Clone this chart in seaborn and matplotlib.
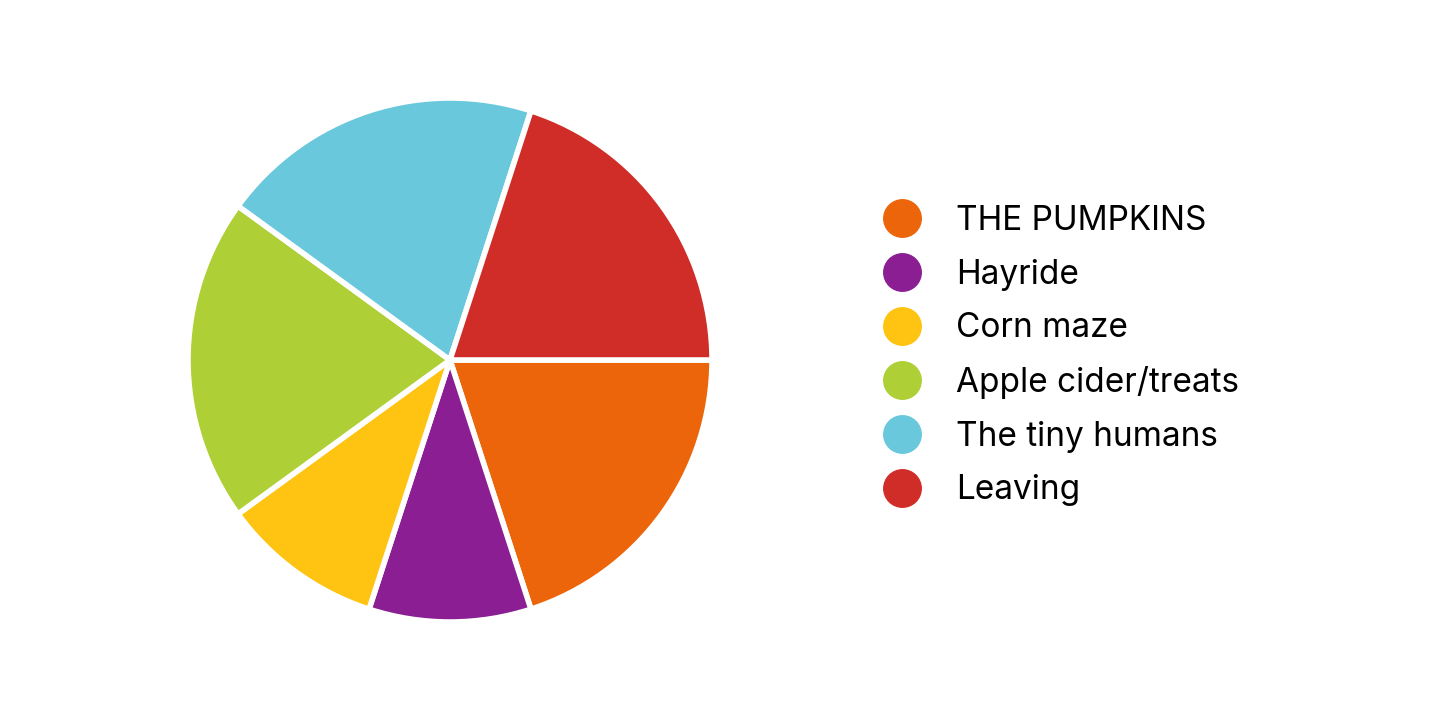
import matplotlib
matplotlib.use("Agg")
import matplotlib.pyplot as plt
import seaborn as sns
from matplotlib.lines import Line2D

# data
labels = ["THE PUMPKINS", "Hayride", "Corn maze", "Apple cider/treats",
          "The tiny humans", "Leaving"]
shares = [20, 10, 10, 20, 20, 20]
colors = ["#EC650A", "#8A1E92", "#FFC312", "#AECF35", "#6AC8DC", "#D12D28"]

sns.set_theme(style="white")
plt.rcParams['font.family'] = ['Inter', 'DejaVu Sans']

fig = plt.figure(figsize=(14.4, 7.2), dpi=100)

# pie centred at (450, 360) px, radius ~262 px
ax = fig.add_axes([(450 - 262) / 1440, (360 - 262) / 720, 524 / 1440, 524 / 720])
ax.pie(
    shares,
    colors=colors,
    startangle=0,
    counterclock=False,
    radius=1,
    wedgeprops=dict(edgecolor="white", linewidth=4),
)
ax.set_xlim(-1, 1)
ax.set_ylim(-1, 1)
ax.set_aspect("equal")
ax.axis("off")

handles = [
    Line2D([0], [0], marker="o", linestyle="", markersize=27,
           markerfacecolor=c, markeredgecolor=c)
    for c in colors
]
leg = fig.legend(
    handles, labels,
    loc="upper left",
    bbox_to_anchor=(882 / 1440, 1 - 205 / 720),
    frameon=False,
    fontsize=24,
    labelspacing=0.65,
    handletextpad=1.02,
    handlelength=1.2,
    borderpad=0,
    borderaxespad=0,
)
for t in leg.get_texts():
    t.set_color("black")

plt.savefig("out.png", dpi=100)
